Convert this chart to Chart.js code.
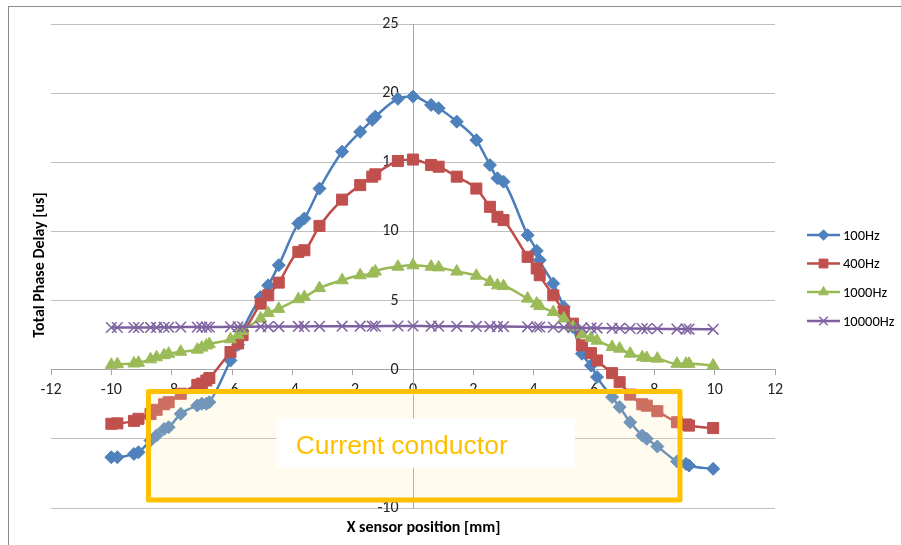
<!DOCTYPE html>
<html>
<head>
<meta charset="utf-8">
<script src="https://cdn.jsdelivr.net/npm/chart.js@4.4.1/dist/chart.umd.min.js"></script>
<style>
html, body { margin: 0; padding: 0; background: #fff; }
#wrap { width: 901px; height: 545px; }
</style>
</head>
<body>
<div id="wrap"><canvas id="myChart"></canvas></div>
<script>
// sensor positions [mm], shared by all series
var xPos = [-10.0, -9.8, -9.25, -9.1, -8.7, -8.5, -8.25, -8.1, -7.7, -7.15, -7.0, -6.85, -6.75,
  -6.05, -5.8, -5.65, -5.05, -4.8, -4.45, -3.8, -3.6, -3.1, -2.35, -1.75, -1.35, -1.25, -0.5, 0.0,
  0.6, 0.85, 1.45, 2.1, 2.55, 2.8, 3.0, 3.8, 4.1, 4.2, 4.65, 5.0, 5.3, 5.6, 5.9, 6.1,
  6.6, 6.85, 7.2, 7.6, 7.75, 8.1, 8.75, 9.05, 9.15, 9.95];

var labels = ['100Hz', '400Hz', '1000Hz', '10000Hz'];

var delay100 = [-6.33, -6.33, -6.09, -5.97, -5.12, -4.75, -4.28, -4.16, -3.19, -2.59, -2.46, -2.46, -2.35,
  0.67, 1.8, 2.8, 5.26, 6.1, 7.56, 10.58, 10.94, 13.1, 15.77, 17.2, 18.07, 18.3, 19.59, 19.75,
  19.15, 18.91, 17.94, 16.6, 14.8, 13.84, 13.6, 9.73, 8.6, 7.92, 6.23, 4.54, 3.09, 1.16, 0.31, -0.53,
  -1.98, -2.7, -3.8, -4.76, -5.0, -5.55, -6.63, -6.81, -6.93, -7.17];

var delay400 = [-3.91, -3.88, -3.7, -3.55, -3.2, -2.9, -2.5, -2.35, -1.74, -1.1, -1.0, -0.78, -0.6,
  1.28, 1.9, 2.5, 4.78, 5.38, 6.3, 8.52, 8.64, 10.4, 12.3, 13.35, 13.96, 14.13, 15.09, 15.2,
  14.8, 14.68, 13.96, 13.1, 11.78, 11.06, 10.82, 8.16, 7.32, 6.83, 5.38, 4.2, 3.33, 1.76, 1.2, 0.67,
  -0.25, -0.9, -1.8, -2.5, -2.6, -3.0, -3.8, -3.96, -4.04, -4.22];

var delay1000 = [0.35, 0.4, 0.45, 0.5, 0.75, 0.9, 1.05, 1.15, 1.3, 1.45, 1.6, 1.75, 1.85,
  2.2, 2.5, 2.8, 3.7, 4.1, 4.4, 5.1, 5.26, 5.9, 6.47, 6.83, 6.95, 7.1, 7.45, 7.55,
  7.45, 7.4, 7.1, 6.8, 6.35, 6.1, 6.05, 5.14, 4.78, 4.6, 4.17, 3.7, 3.1, 2.55, 2.3, 2.1,
  1.64, 1.52, 1.16, 0.91, 0.85, 0.8, 0.43, 0.43, 0.43, 0.31];

var delay10000 = [3.05, 3.05, 3.05, 3.05, 3.06, 3.06, 3.07, 3.07, 3.08, 3.08, 3.08, 3.08, 3.08,
  3.1, 3.1, 3.1, 3.12, 3.12, 3.12, 3.13, 3.13, 3.14, 3.15, 3.15, 3.15, 3.15, 3.16, 3.16,
  3.15, 3.15, 3.14, 3.13, 3.12, 3.12, 3.12, 3.1, 3.09, 3.09, 3.08, 3.06, 3.05, 3.03, 3.02, 3.01,
  3.0, 3.0, 2.98, 2.97, 2.97, 2.96, 2.94, 2.94, 2.94, 2.92];

// conductor outline and its caption box, in chart units
var conductor = { xMin: -8.77, xMax: 8.85, yMin: -9.43, yMax: -1.57 };
var captionBox = { xMin: -4.52, xMax: 5.37, yMin: -7.08, yMax: -3.53 };

var fontFam = "Carlito, Calibri, 'Open Sans', sans-serif";
var lineColors = ['#4A7EBB', '#BE4B48', '#98B954', '#7D60A0'];
var markColors = ['#4F81BD', '#C0504D', '#9BBB59', '#8064A2'];
var styles = ['rectRot', 'rect', 'triangle', 'crossRot'];
var radii = [6.5, 7.8, 7, 7.5];

function toPoints(vals) {
    return xPos.map(function (x, i) { return { x: x, y: vals[i] }; });
}

var series = [delay100, delay400, delay1000, delay10000];
var datasets = series.map(function (vals, i) {
    return {
        label: labels[i],
        data: toPoints(vals),
        showLine: true,
        borderColor: lineColors[i],
        borderWidth: 2.5,
        pointStyle: styles[i],
        pointRadius: radii[i],
        pointBackgroundColor: markColors[i],
        pointBorderColor: markColors[i],
        pointBorderWidth: i == 3 ? 1.5 : 1,
        cubicInterpolationMode: 'monotone',
        order: 4 - i
    };
});

var chartDecor = {
    id: 'chartDecor',
    beforeDraw: function (chart) {
        var c = chart.ctx;
        c.save();
        c.fillStyle = '#fff';
        c.fillRect(0, 0, chart.width, chart.height);
        c.strokeStyle = '#8C8C8C';
        c.lineWidth = 1;
        c.strokeRect(8.5, 6.5, chart.width + 20, chart.height + 20);
        c.restore();
    },
    afterDraw: function (chart) {
        var c = chart.ctx;
        var xs = chart.scales.x, ys = chart.scales.y;
        c.save();
        // conductor rectangle
        var l = xs.getPixelForValue(conductor.xMin), r = xs.getPixelForValue(conductor.xMax);
        var t = ys.getPixelForValue(conductor.yMax), b = ys.getPixelForValue(conductor.yMin);
        c.fillStyle = 'rgba(255, 233, 176, 0.2)';
        c.fillRect(l, t, r - l, b - t);
        c.strokeStyle = '#FFC000';
        c.lineWidth = 5;
        c.lineJoin = 'round';
        c.strokeRect(l, t, r - l, b - t);
        // caption box
        var cl = xs.getPixelForValue(captionBox.xMin), cr = xs.getPixelForValue(captionBox.xMax);
        var ct = ys.getPixelForValue(captionBox.yMax), cb = ys.getPixelForValue(captionBox.yMin);
        c.fillStyle = '#fff';
        c.fillRect(cl, ct, cr - cl, cb - ct);
        c.fillStyle = '#FFC000';
        c.font = "26.5px 'Liberation Sans', Arial, sans-serif";
        c.textBaseline = 'alphabetic';
        c.textAlign = 'left';
        c.fillText('Current conductor', cl + 19, ct + 35);

        // axis titles
        c.fillStyle = '#000';
        c.font = 'bold 16px ' + fontFam;
        c.textAlign = 'center';
        c.textBaseline = 'middle';
        c.fillText('X sensor position [mm]', xs.getPixelForValue(0.35), 528);
        c.translate(40, (chart.chartArea.top + chart.chartArea.bottom) / 2 - 1);
        c.rotate(-Math.PI / 2);
        c.fillText('Total Phase Delay [us]', 0, 0);
        c.restore();

        // legend
        c.save();
        var ly = [235, 263.5, 292, 321];
        chart.data.datasets.forEach(function (ds, i) {
            c.strokeStyle = ds.borderColor;
            c.lineWidth = 2.5;
            c.beginPath();
            c.moveTo(807, ly[i]);
            c.lineTo(840, ly[i]);
            c.stroke();
            c.fillStyle = ds.pointBackgroundColor;
            c.strokeStyle = ds.pointBorderColor;
            c.lineWidth = ds.pointBorderWidth;
            Chart.helpers.drawPoint(c, { pointStyle: ds.pointStyle, radius: ds.pointRadius * 0.8, rotation: 0, borderWidth: ds.pointBorderWidth }, 823.5, ly[i]);
            c.fillStyle = '#000';
            c.font = '14.5px ' + fontFam;
            c.textAlign = 'left';
            c.textBaseline = 'middle';
            c.fillText(ds.label, 843, ly[i] + 1);
        });
        c.restore();
    }
};

var ctx = document.getElementById('myChart');
var myChart = new Chart(ctx, {
    type: 'scatter',
    data: { datasets: datasets },
    options: {
        responsive: true,
        maintainAspectRatio: false,
        animation: false,
        layout: { padding: { left: 51, right: 126, top: 24, bottom: 37 } },
        plugins: {
            legend: { display: false },
            tooltip: { enabled: false }
        },
        scales: {
            x: {
                type: 'linear',
                min: -12,
                max: 12,
                position: { y: 0 },
                ticks: { stepSize: 2, padding: 6, color: '#222', font: { family: fontFam, size: 16 } },
                grid: { drawOnChartArea: false, drawTicks: true, tickLength: 5, color: '#A6A6A6' },
                border: { color: '#A6A6A6' }
            },
            y: {
                type: 'linear',
                min: -10,
                max: 25,
                position: { x: 0 },
                ticks: {
                    stepSize: 5,
                    color: '#222',
                    font: { family: fontFam, size: 16 },
                    // axis sits inside the plot, so push labels off it with trailing spaces
                    callback: function (v) { return v + '\u00a0\u00a0\u00a0\u00a0'; }
                },
                grid: { drawTicks: false, color: '#BFBFBF' },
                border: { color: '#A6A6A6' }
            }
        }
    },
    plugins: [chartDecor]
});
</script>
</body>
</html>
